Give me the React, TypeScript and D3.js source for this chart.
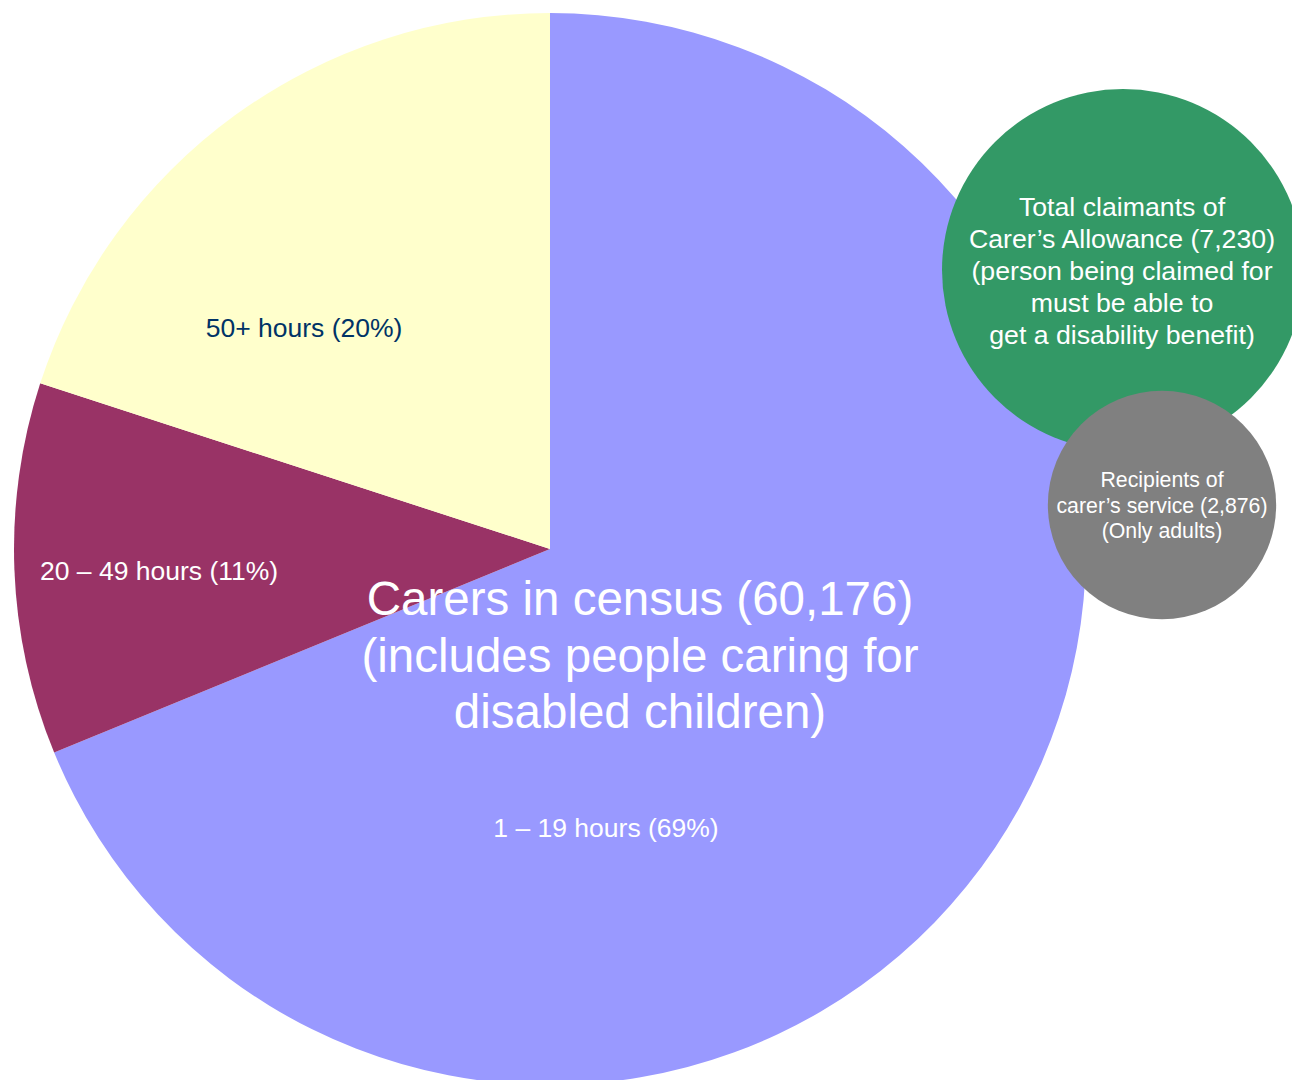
import React from "react";
import * as d3 from "d3";

// ---- Data ----
const categories = ["1 – 19 hours (69%)", "20 – 49 hours (11%)", "50+ hours (20%)"];
const shares = [68.8, 11.2, 20.0];
const sliceColors = ["#9999FF", "#993366", "#FFFFCC"];
const labelColors = ["#FFFFFF", "#FFFFFF", "#003366"];

const titleLines = ["Carers in census (60,176)", "(includes people caring for", "disabled children)"];

const bubbleNames = ["Carer's Allowance", "Carer's service"];
const bubbleValues = [7230, 2876];
const bubbleColors = ["#339966", "#808080"];
const bubbleLines = [
  ["Total claimants of", "Carer’s Allowance (7,230)", "(person being claimed for", "must be able to", "get a disability benefit)"],
  ["Recipients of", "carer’s service (2,876)", "(Only adults)"],
];

// ---- Layout ----
const W = 1292;
const H = 1080;
const CX = 550;
const CY = 549;
const R = 536;
const FONT = "'Liberation Sans', Arial, Helvetica, sans-serif";

// label positions relative to the pie centre (x, baseline y, anchor)
const labelPos: [number, number, string][] = [
  [56, 288, "middle"],
  [-510, 31, "start"],
  [-246, -212, "middle"],
];
const bubbleCenters: [number, number][] = [
  [1123, 270],
  [1162, 505],
];
const bubbleTextX = [1122, 1162];
const bubbleFont = [26.7, 21.3];
const bubbleLineH = [32, 25.5];
const bubbleFirstBaseline = [216, 487];

export default function App() {
  const pie = d3.pie<number>().sort(null).startAngle(0).endAngle(2 * Math.PI);
  const arcs = pie(shares);
  const arc = d3.arc<d3.PieArcDatum<number>>().innerRadius(0).outerRadius(R);
  const rScale = d3.scaleSqrt().domain([0, bubbleValues[0]]).range([0, 181]);

  return (
    <svg
      width={W}
      height={H}
      style={{ position: "absolute", left: 0, top: 0, background: "#ffffff" }}
      fontFamily={FONT}
    >
      <rect width={W} height={H} fill="#ffffff" />
      <g transform={`translate(${CX},${CY})`}>
        {arcs.map((a, i) => (
          <path key={categories[i]} d={arc(a) || ""} fill={sliceColors[i]} />
        ))}
        {arcs.map((a, i) => (
          <text
            key={"l" + i}
            x={labelPos[i][0]}
            y={labelPos[i][1]}
            textAnchor={labelPos[i][2] as any}
            fill={labelColors[i]}
            fontSize={26.5}
          >
            {categories[i]}
          </text>
        ))}
        {titleLines.map((t, i) => (
          <text key={t} x={90} y={66 + i * 56.5} textAnchor="middle" fill="#ffffff" fontSize={47.5}>
            {t}
          </text>
        ))}
      </g>
      {bubbleValues.map((v, i) => (
        <g key={bubbleNames[i]}>
          <circle cx={bubbleCenters[i][0]} cy={bubbleCenters[i][1]} r={rScale(v)} fill={bubbleColors[i]} />
          {bubbleLines[i].map((t, j) => (
            <text
              key={t}
              x={bubbleTextX[i]}
              y={bubbleFirstBaseline[i] + j * bubbleLineH[i]}
              textAnchor="middle"
              fill="#ffffff"
              fontSize={bubbleFont[i]}
            >
              {t}
            </text>
          ))}
        </g>
      ))}
    </svg>
  );
}
